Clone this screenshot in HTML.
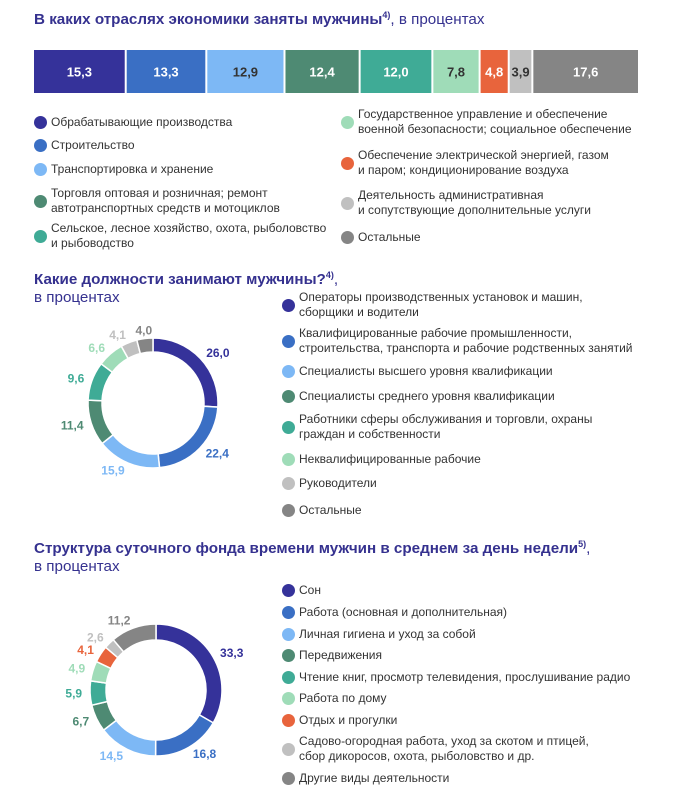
<!DOCTYPE html>
<html><head><meta charset="utf-8">
<style>
body{margin:0;width:675px;height:805px;background:#fff;font-family:"Liberation Sans",sans-serif;position:relative;overflow:hidden}
.t{position:absolute;color:#35318f;font-size:15.2px;font-weight:bold;letter-spacing:0px}
.t span{font-weight:normal}
.leg{position:absolute;font-size:12px;color:#333;line-height:15px}
.leg .b{position:absolute;width:13px;height:13px;border-radius:50%}
svg{position:absolute;left:0;top:0}
</style></head><body>
<div class="t" style="left:34px;top:10px">В каких отраслях экономики заняты мужчины<sup style="font-size:9px">4)</sup><span>, в процентах</span></div>
<div class="t" style="left:34px;top:266px;line-height:18px">Какие должности занимают мужчины?<sup style="font-size:9px">4)</sup><span>,<br>в процентах</span></div>
<div class="t" style="left:34px;top:535px;line-height:18px">Структура суточного фонда времени мужчин в среднем за день недели<sup style="font-size:9px">5)</sup><span>,<br>в процентах</span></div>
<svg id="s" width="675" height="805"></svg>
<div id="legs"></div>
<script>
const barValues=[15.3,13.3,12.9,12.4,12.0,7.8,4.8,3.9,17.6];
const barLabels=["15,3","13,3","12,9","12,4","12,0","7,8","4,8","3,9","17,6"];
const barColors=["#35329a","#3a6fc4","#7db8f5","#4e8a73","#3fab96","#9fdcb8","#e8643c","#c0c0c0","#858585"];
const barTextColors=["#fff","#fff","#333","#fff","#fff","#333","#fff","#333","#fff"];
const donut1Values=[26.0,22.4,15.9,11.4,9.6,6.6,4.1,4.0];
const donut1Labels=["26,0","22,4","15,9","11,4","9,6","6,6","4,1","4,0"];
const donut1Colors=["#35329a","#3a6fc4","#7db8f5","#4e8a73","#3fab96","#9fdcb8","#c0c0c0","#858585"];
const donut2Values=[33.3,16.8,14.5,6.7,5.9,4.9,4.1,2.6,11.2];
const donut2Labels=["33,3","16,8","14,5","6,7","5,9","4,9","4,1","2,6","11,2"];
const donut2Colors=["#35329a","#3a6fc4","#7db8f5","#4e8a73","#3fab96","#9fdcb8","#e8643c","#c0c0c0","#858585"];
const leg1=[["Обрабатывающие производства"],["Строительство"],["Транспортировка и хранение"],["Торговля оптовая и розничная; ремонт","автотранспортных средств и мотоциклов"],["Сельское, лесное хозяйство, охота, рыболовство","и рыбоводство"],["Государственное управление и обеспечение","военной безопасности; социальное обеспечение"],["Обеспечение электрической энергией, газом","и паром; кондиционирование воздуха"],["Деятельность административная","и сопутствующие дополнительные услуги"],["Остальные"]];
const leg2=[["Операторы производственных установок и машин,","сборщики и водители"],["Квалифицированные рабочие промышленности,","строительства, транспорта и рабочие родственных занятий"],["Специалисты высшего уровня квалификации"],["Специалисты среднего уровня квалификации"],["Работники сферы обслуживания и торговли, охраны","граждан и собственности"],["Неквалифицированные рабочие"],["Руководители"],["Остальные"]];
const leg3=[["Сон"],["Работа (основная и дополнительная)"],["Личная гигиена и уход за собой"],["Передвижения"],["Чтение книг, просмотр телевидения, прослушивание радио"],["Работа по дому"],["Отдых и прогулки"],["Садово-огородная работа, уход за скотом и птицей,","сбор дикоросов, охота, рыболовство и др."],["Другие виды деятельности"]];
const NS="http://www.w3.org/2000/svg";
const s=document.getElementById('s');
function el(t,a){const e=document.createElementNS(NS,t);for(const k in a)e.setAttribute(k,a[k]);s.appendChild(e);return e;}
const bx0=34,bx1=640,by=50,bh=43;
const tot=barValues.reduce((a,b)=>a+b,0);
let acc=0;
barValues.forEach((v,i)=>{
  const x=bx0+(bx1-bx0)*acc/tot, w=(bx1-bx0)*v/tot; acc+=v;
  const r=el('rect',{x:x,y:by,width:Math.max(w-2,0),height:bh,fill:barColors[i]});
  
  
  const t=el('text',{x:x+w/2-1,y:by+bh/2+5,'text-anchor':'middle','font-size':'13','font-weight':'bold',fill:barTextColors[i]});
  t.textContent=barLabels[i];
  
  
});
function donut(vals,labs,cols,cx,cy,R,r,lr){
  const T=vals.reduce((a,b)=>a+b,0);let a0=0;
  vals.forEach((v,i)=>{
    const s0=a0/T*2*Math.PI, s1=(a0+v)/T*2*Math.PI; a0+=v;
    const p=(a,rad)=>[cx+rad*Math.sin(a),cy-rad*Math.cos(a)];
    const [x1,y1]=p(s0,R),[x2,y2]=p(s1,R),[x3,y3]=p(s1,r),[x4,y4]=p(s0,r);
    const lg=(s1-s0)>Math.PI?1:0;
    const path=el('path',{d:`M${x1},${y1}A${R},${R} 0 ${lg} 1 ${x2},${y2}L${x3},${y3}A${r},${r} 0 ${lg} 0 ${x4},${y4}Z`,fill:cols[i],stroke:'#fff','stroke-width':1.5});
    
    
    const m=(s0+s1)/2;const [lx,ly]=p(m,lr);
    const sn=Math.sin(m);
    const t=el('text',{x:lx,y:ly+4,'text-anchor':sn>0.3?'start':(sn<-0.3?'end':'middle'),'font-size':'12','font-weight':'bold',fill:cols[i]});
    t.textContent=labs[i];
    
    
  });
}
donut(donut1Values,donut1Labels,donut1Colors,153,403,65,51,73);
donut(donut2Values,donut2Labels,donut2Colors,156,690,66,50,74);
const L=document.getElementById('legs');
function legend(items,cols,pos){
  items.forEach((it,i)=>{
    const d=document.createElement('div');d.className='leg';
    
    
    const [x,y]=pos[i];
    d.style.left=(x+17)+'px';d.style.top=(y-7.5*it.length)+'px';
    d.innerHTML=it.join('<br>');
    const b=document.createElement('div');b.className='b';b.style.background=cols[i];
    b.style.left='-17px';b.style.top=(7.5*it.length-6.5)+'px';
    d.appendChild(b);L.appendChild(d);
  });
}
legend(leg1,["#35329a","#3a6fc4","#7db8f5","#4e8a73","#3fab96","#9fdcb8","#e8643c","#c0c0c0","#858585"],
  [[34,122],[34,145],[34,169],[34,201],[34,236],[341,122],[341,163],[341,203],[341,237]]);
legend(leg2,donut1Colors,[[282,305],[282,341],[282,371],[282,396],[282,427],[282,459],[282,483],[282,510]]);
legend(leg3,donut2Colors,[[282,590],[282,612],[282,634],[282,655],[282,677],[282,698],[282,720],[282,749],[282,778]]);
</script>
</body></html>
